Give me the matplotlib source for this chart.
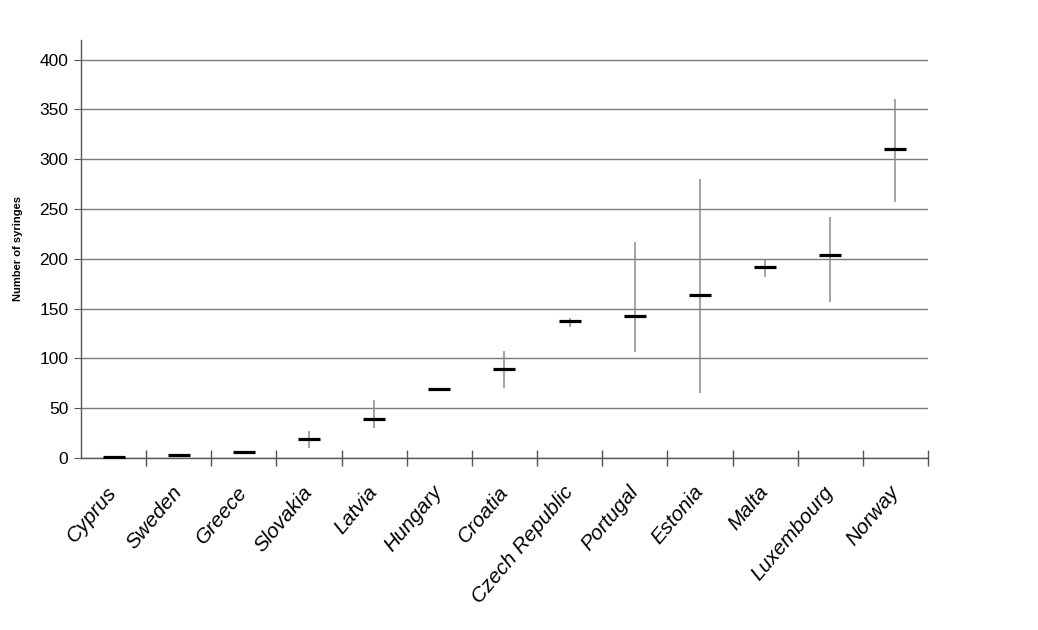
import numpy as np
import matplotlib.pyplot as plt
import matplotlib.transforms as mtransforms
from matplotlib.ticker import FixedLocator

plt.rcParams['font.family'] = ['Liberation Sans', 'DejaVu Sans']

countries = ["Cyprus", "Sweden", "Greece", "Slovakia", "Latvia", "Hungary",
             "Croatia", "Czech Republic", "Portugal", "Estonia", "Malta",
             "Luxembourg", "Norway"]
median = [1, 3, 6, 19, 39, 69, 89, 138, 143, 164, 192, 204, 310]
low = [1, 3, 6, 10, 30, 69, 70, 132, 106, 65, 182, 157, 257]
high = [1, 3, 6, 27, 58, 69, 107, 141, 217, 280, 200, 242, 360]


def main():
    fig = plt.figure(figsize=(10.38, 6.3), dpi=100)
    ax = fig.add_axes([0.078, 0.273, 0.816, 0.664])

    x = np.arange(len(countries))
    med = np.array(median)
    yerr = [med - np.array(low), np.array(high) - med]

    ax.errorbar(x, med, yerr=yerr, fmt='none', ecolor='#8a8a8a',
                elinewidth=1.1, capsize=0, zorder=3)
    ax.plot(x, med, linestyle='none', marker='_', markersize=16,
            markeredgewidth=2.3, color='black', zorder=4)

    ax.set_xlim(-0.5, len(countries) - 0.5)
    ax.set_ylim(0, 420)
    ax.set_yticks(np.arange(0, 401, 50))
    ax.yaxis.grid(True, color='#7a7a7a', linewidth=1)
    ax.set_axisbelow(True)

    ax.set_xticks(x)
    ax.set_xticklabels(countries, rotation=50, ha='right', va='center',
                       rotation_mode='anchor', style='italic', fontsize=15)
    # nudge labels a little left of the category centre
    shift = mtransforms.ScaledTranslation(-4 / 100, 0, fig.dpi_scale_trans)
    for lbl in ax.get_xticklabels():
        lbl.set_transform(lbl.get_transform() + shift)
    ax.xaxis.set_minor_locator(FixedLocator(np.arange(0.5, len(countries), 1.0)))
    ax.tick_params(axis='x', which='major', length=0, pad=22)
    ax.tick_params(axis='x', which='minor', direction='inout', length=12,
                   color='#555555', width=1)
    ax.tick_params(axis='y', direction='out', length=5, color='#555555',
                   labelsize=12.5, pad=4)

    for side in ['top', 'right']:
        ax.spines[side].set_visible(False)
    for side in ['left', 'bottom']:
        ax.spines[side].set_color('#555555')
        ax.spines[side].set_linewidth(1)

    ax.set_ylabel("Number of syringes", fontsize=8, fontweight='bold', labelpad=12)

    fig.savefig("out.png", dpi=100)
    plt.close(fig)


if __name__ == '__main__':
    main()
